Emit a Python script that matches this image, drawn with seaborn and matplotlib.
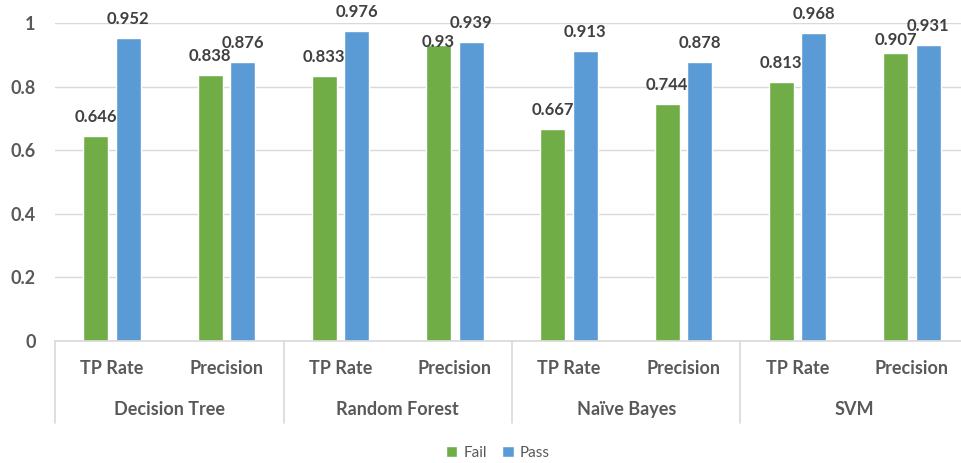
import matplotlib
matplotlib.use("Agg")
import matplotlib.pyplot as plt
import seaborn as sns
import pandas as pd
from matplotlib.lines import Line2D
import matplotlib.transforms as mtransforms

models = ["Decision Tree", "Random Forest", "Naïve Bayes", "SVM"]
metrics = ["TP Rate", "Precision"]
fail_vals = [0.646, 0.838, 0.833, 0.93, 0.667, 0.744, 0.813, 0.907]
pass_vals = [0.952, 0.876, 0.976, 0.939, 0.913, 0.878, 0.968, 0.931]
series = ["Fail", "Pass"]
yticks = [0, 0.2, 0.4, 0.6, 0.8, 1]
ytick_labels = ["0", "0.2", "0.4", "0.6", "0.8", "1"]

GREEN = "#70AD47"
BLUE = "#5B9BD5"
TICK_C = "#595959"
LABEL_C = "#404040"
GRID_C = "#D9D9D9"

keys = [f"{m}|{k}" for m in models for k in metrics]
rows = []
for i, key in enumerate(keys):
    rows.append({"key": key, "series": "Fail", "value": fail_vals[i]})
    rows.append({"key": key, "series": "Pass", "value": pass_vals[i]})
df = pd.DataFrame(rows)

sns.set_style("white")
plt.rcParams["font.family"] = ["Lato", "DejaVu Sans"]

W, H = 962, 463
fig = plt.figure(figsize=(W / 100, H / 100), dpi=100)
left, right, top, bottom = 55, 969, 23, 341
ax = fig.add_axes([left / W, 1 - bottom / H, (right - left) / W, (bottom - top) / H])
px_per_unit = bottom - top

sns.barplot(data=df, x="key", y="value", hue="series", order=keys, hue_order=series,
            palette=[GREEN, BLUE], saturation=1, width=0.57, gap=0.228,
            errorbar=None, ax=ax, legend=True)

ax.set_xlim(-0.5, len(keys) - 0.5)
ax.set_ylim(0, 1)
ax.set_yticks(yticks)
ax.set_yticklabels(ytick_labels, fontsize=13, fontweight="bold", color=TICK_C)
ax.tick_params(axis="y", length=0, pad=14)
ax.set_xticks([])
ax.set_xlabel("")
ax.set_ylabel("")
ax.yaxis.grid(True, color=GRID_C, lw=1)
ax.set_axisbelow(True)
for s in ["left", "right", "top"]:
    ax.spines[s].set_visible(False)
ax.spines["bottom"].set_color(GRID_C)
ax.spines["bottom"].set_linewidth(1.2)

# data labels (fail labels pushed down when they would collide with pass labels)
for ci, (cont, vals, other) in enumerate(zip(ax.containers, [fail_vals, pass_vals],
                                            [pass_vals, fail_vals])):
    for bar, v, o in zip(cont, vals, other):
        x = bar.get_x() + bar.get_width() / 2
        off_px = 14
        if ci == 0:
            diff_px = (o - v) * px_per_unit
            off_px = min(14, 2.1 * diff_px - 8)
        ax.annotate(f"{v:g}", (x, v), xytext=(0, off_px * 0.72), textcoords="offset points",
                    ha="center", va="baseline", fontsize=12, fontweight="bold",
                    color=LABEL_C, annotation_clip=False)

# multi-level category axis
trans = mtransforms.blended_transform_factory(ax.transData, ax.transAxes)
for i, key in enumerate(keys):
    ax.annotate(key.split("|")[1], (i, 0), xycoords=trans, xytext=(0, -19.5),
                textcoords="offset points", ha="center", va="center",
                fontsize=13, fontweight="bold", color=TICK_C, annotation_clip=False)
for j, m in enumerate(models):
    ax.annotate(m, (2 * j + 0.5, 0), xycoords=trans, xytext=(0, -49.5),
                textcoords="offset points", ha="center", va="center",
                fontsize=13, fontweight="bold", color=TICK_C, annotation_clip=False)
sep_len = 82 / px_per_unit
for j in range(len(models) + 1):
    xx = 2 * j - 0.5
    ax.add_line(Line2D([xx, xx], [0, -sep_len], transform=trans, color=GRID_C,
                       lw=1.2, clip_on=False))

handles, labels = ax.get_legend_handles_labels()
ax.get_legend().remove()
fig.legend(handles, labels, loc="center", bbox_to_anchor=(498 / W, 1 - 453 / H),
           ncol=2, frameon=False, fontsize=11, labelcolor=TICK_C,
           handlelength=0.75, handleheight=0.75, handletextpad=0.4, columnspacing=1.0)

fig.savefig("out.png", dpi=100)
